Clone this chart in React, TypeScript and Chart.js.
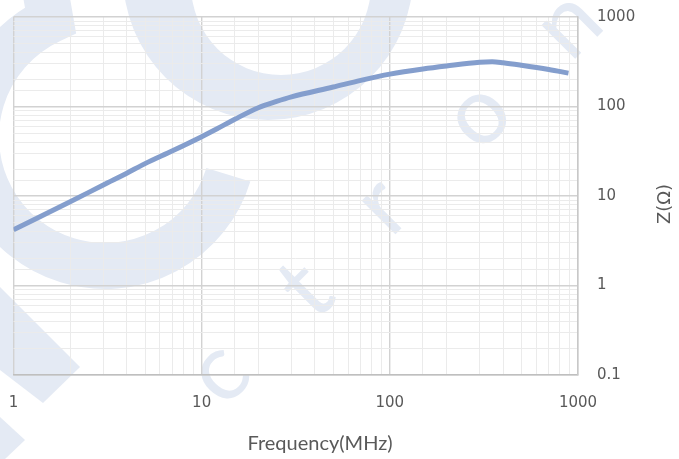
import React, { useEffect, useRef } from "react";
import { Chart, registerables } from "chart.js";

Chart.register(...registerables);

// ---- data ----
const frequencies = [1, 2, 3, 4, 5, 7, 10, 12, 15, 20, 25, 30, 50, 70, 100, 150, 200, 300, 350, 400, 500, 700, 890];
const impedance = [4.2, 8.6, 13.3, 18, 23, 32, 46, 56, 72, 97, 114, 128, 165, 196, 230, 263, 284, 312, 316, 308, 289, 259, 236];
const xTickLabels = [1, 10, 100, 1000];
const yTickLabels = [0.1, 1, 10, 100, 1000];
const xTitle = "Frequency(MHz)";
const yTitle = "Z(Ω)";
const watermarkLetters = ["c", "t", "r", "o", "n"];

const isIn = (list: number[], v: number) => list.some((t) => Math.abs(t - v) < 1e-9 * Math.max(1, t));
const isDecade = (v: number) => {
  if (!(v > 0)) return false;
  const l = Math.log10(v);
  return Math.abs(l - Math.round(l)) < 1e-6;
};

const WM = "#e4eaf4";
const deg = (d: number) => (d * Math.PI) / 180;

const watermarkPlugin = {
  id: "watermark",
  beforeDraw(chart: any) {
    const ctx = chart.ctx as CanvasRenderingContext2D;
    ctx.save();
    ctx.fillStyle = "#ffffff";
    ctx.fillRect(0, 0, chart.width, chart.height);
    ctx.fillStyle = WM;
    ctx.strokeStyle = WM;
    // big left "C" arc
    ctx.beginPath();
    ctx.lineWidth = 46;
    ctx.lineCap = "butt";
    ctx.arc(105, 137, 129, deg(17), deg(245), false);
    ctx.lineTo(40, -40);
    ctx.stroke();
    // big top ring
    ctx.beginPath();
    ctx.arc(268, -25, 145, 0, Math.PI * 2, false);
    ctx.moveTo(281 + 90, -15);
    ctx.arc(281, -15, 90, 0, Math.PI * 2, false);
    ctx.fill("evenodd");
    // lower-left diagonal bands
    ctx.beginPath();
    ctx.moveTo(0, 287);
    ctx.lineTo(80, 367);
    ctx.lineTo(43, 403);
    ctx.lineTo(0, 370);
    ctx.closePath();
    ctx.fill();
    ctx.beginPath();
    ctx.moveTo(0, 417);
    ctx.lineTo(25, 440);
    ctx.lineTo(5, 459);
    ctx.lineTo(0, 459);
    ctx.closePath();
    ctx.fill();
    // letters
    const centers = [
      [223, 377],
      [305, 289],
      [386, 210],
      [482, 119],
      [572, 28],
    ];
    ctx.font = "94px Lato";
    ctx.textAlign = "center";
    ctx.textBaseline = "alphabetic";
    watermarkLetters.forEach((ch, i) => {
      const [cx, cy] = centers[i];
      const m = ctx.measureText(ch);
      const off = (m.actualBoundingBoxAscent - m.actualBoundingBoxDescent) / 2;
      ctx.save();
      ctx.translate(cx, cy);
      ctx.rotate(-Math.PI / 4);
      ctx.fillText(ch, 0, off);
      ctx.restore();
    });
    ctx.restore();
  },
};

const titlesPlugin = {
  id: "titles",
  afterDraw(chart: any) {
    const ctx = chart.ctx as CanvasRenderingContext2D;
    ctx.save();
    ctx.fillStyle = "#595959";
    ctx.textAlign = "center";
    ctx.textBaseline = "middle";
    ctx.font = "20px Lato";
    ctx.fillText(xTitle, 320, 444);
    ctx.translate(665, 204);
    ctx.rotate(-Math.PI / 2);
    ctx.font = "18px 'DejaVu Sans'";
    ctx.fillText(yTitle, 0, 0);
    ctx.restore();
  },
};

export default function App() {
  const ref = useRef<HTMLCanvasElement | null>(null);

  useEffect(() => {
    if (!ref.current) return;
    const gridColor = (c: any) => (isDecade(c.tick?.value) ? "#d2d2d2" : "#ebebeb");
    const gridWidth = (c: any) => (isDecade(c.tick?.value) ? 1.4 : 1);
    const tickFont = { family: "'DejaVu Sans'", size: 15 };
    const chart = new Chart(ref.current, {
      type: "line",
      data: {
        datasets: [
          {
            data: frequencies.map((f, i) => ({ x: f, y: impedance[i] })),
            borderColor: "#849ecd",
            borderWidth: 5,
            pointRadius: 0,
            fill: false,
            cubicInterpolationMode: "monotone",
          },
        ],
      },
      options: {
        responsive: false,
        animation: false,
        devicePixelRatio: 1,
        layout: { padding: { left: 13.5, top: 17, right: 0, bottom: 0 } },
        plugins: { legend: { display: false }, tooltip: { enabled: false } },
        scales: {
          x: {
            type: "logarithmic",
            position: "bottom",
            min: 1,
            max: 1000,
            grid: {
              color: gridColor,
              lineWidth: gridWidth,
              drawTicks: true,
              tickLength: 19,
              tickColor: "rgba(0,0,0,0)",
            },
            border: { display: true, color: "#bfbfbf", width: 1.5 },
            ticks: {
              autoSkip: false,
              maxRotation: 0,
              padding: 0,
              color: "#595959",
              font: tickFont,
              callback: (v: any) => (isIn(xTickLabels, Number(v)) ? String(Number(v)) : ""),
            },
            afterFit: (s: any) => {
              s.height = 84;
            },
          },
          y: {
            type: "logarithmic",
            position: "right",
            min: 0.1,
            max: 1000,
            grid: {
              color: gridColor,
              lineWidth: gridWidth,
              drawTicks: true,
              tickLength: 19,
              tickColor: "rgba(0,0,0,0)",
            },
            border: { display: true, color: "#c8c8c8", width: 1.5 },
            ticks: {
              autoSkip: false,
              padding: 0,
              color: "#595959",
              font: tickFont,
              callback: (v: any) => (isIn(yTickLabels, Number(v)) ? String(Number(v)) : ""),
            },
            afterFit: (s: any) => {
              s.width = 101;
            },
          },
        },
      },
      plugins: [watermarkPlugin, titlesPlugin],
    } as any);
    return () => chart.destroy();
  }, []);

  return (
    <div style={{ position: "absolute", left: 0, top: 0, width: 679, height: 459 }}>
      <canvas ref={ref} width={679} height={459} style={{ display: "block", width: 679, height: 459 }} />
    </div>
  );
}
